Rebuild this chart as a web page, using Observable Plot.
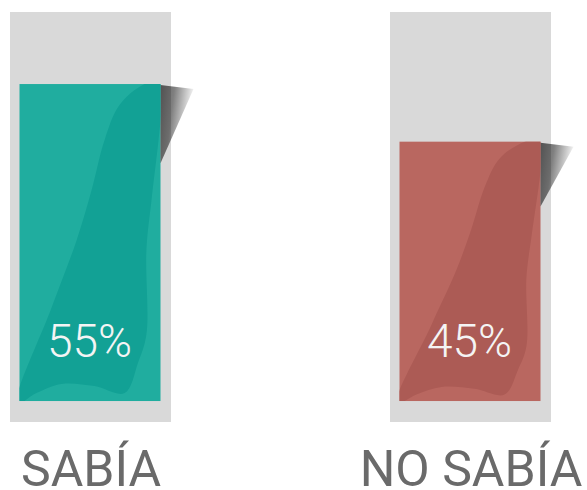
<!DOCTYPE html>
<html>
<head>
<meta charset="utf-8">
<script src="https://cdn.jsdelivr.net/npm/d3@7"></script>
<script src="https://cdn.jsdelivr.net/npm/@observablehq/plot@0.6"></script>
<style>
  html, body { margin: 0; padding: 0; background: #ffffff; }
  #chart svg { display: block; }
</style>
</head>
<body>
<div id="chart"></div>
<script>
// ---- data ----
const categories = ["SABÍA", "NO SABÍA"];
const values = [55, 45];
const valueLabels = ["55%", "45%"];
const baseColors = ["#20AD9F", "#B96760"];
const darkColors = ["#12A195", "#AC5B55"];

const data = categories.map((c, i) => ({
  cat: c, value: values[i], label: valueLabels[i], base: baseColors[i], dark: darkColors[i]
}));

// scale extent of the grey track
const yLo = -3.64, yHi = 67.5;
const insetL = 9.5, insetR = 10.5;

// curled-page shading shape (fractions of bar width / height)
const curl = [
  [0.887, 0.0], [1.02, -0.01], [1.0, 0.114], [0.986, 0.177], [0.936, 0.367], [0.90, 0.525],
  [0.90, 0.79], [0.84, 0.88], [0.745, 0.975], [0.532, 0.953], [0.298, 0.946], [0.12, 0.975], [-0.02, 1.01],
  [0.227, 0.706], [0.404, 0.494], [0.511, 0.335], [0.603, 0.177], [0.709, 0.066]
];

function decorations(index, scales) {
  const sx = scales.x, sy = scales.y;
  const bw = typeof sx.bandwidth === "function" ? sx.bandwidth() : sx.bandwidth;
  const g = d3.create("svg:g");
  const defs = g.append("defs");
  const grad = defs.append("linearGradient").attr("id", "shadowGrad")
    .attr("x1", "0").attr("y1", "0").attr("x2", "1").attr("y2", "0.3");
  grad.append("stop").attr("offset", "0").attr("stop-color", "#000").attr("stop-opacity", 0.62);
  grad.append("stop").attr("offset", "0.4").attr("stop-color", "#000").attr("stop-opacity", 0.5);
  grad.append("stop").attr("offset", "1").attr("stop-color", "#000").attr("stop-opacity", 0);
  const line = d3.line().curve(d3.curveCatmullRomClosed.alpha(0.5));
  data.forEach((d, i) => {
    const x0 = sx(d.cat) + insetL;
    const x1 = sx(d.cat) + bw - insetR;
    const yT = sy(d.value), yB = sy(0);
    const w = x1 - x0, h = yB - yT;
    defs.append("clipPath").attr("id", "barClip" + i)
      .append("rect").attr("x", x0).attr("y", yT).attr("width", w).attr("height", h);
    // shadow
    g.append("polygon")
      .attr("points", [[x1, yT + 1], [x1 + 33, yT + 5], [x1, yT + 0.25 * h]].map(p => p.join(",")).join(" "))
      .attr("fill", "url(#shadowGrad)");
    // darker curl
    g.append("path")
      .attr("d", line(curl.map(([u, v]) => [x0 + u * w, yT + v * h])))
      .attr("clip-path", "url(#barClip" + i + ")")
      .attr("fill", d.dark);
  });
  return g.node();
}

const chart = Plot.plot({
  width: 587,
  height: 490,
  marginTop: 12,
  marginBottom: 68,
  marginLeft: 9,
  marginRight: 36,
  style: { fontFamily: "Roboto, 'Noto Sans', sans-serif", background: "#ffffff" },
  x: { type: "band", domain: categories, paddingInner: 0.577, paddingOuter: 0, axis: null },
  y: { domain: [yLo, yHi], axis: null },
  color: { type: "identity" },
  marks: [
    Plot.barY(data, { x: "cat", y1: () => yLo, y2: () => yHi, fill: "#D9D9D9" }),
    Plot.barY(data, { x: "cat", y: "value", fill: "base", insetLeft: insetL, insetRight: insetR }),
    decorations,
    Plot.text(data, { x: "cat", y: () => 0, text: "label", fill: "#F4F4F4", fontSize: 46, fontWeight: 300, dy: -59, dx: -1.5 }),
    Plot.text(data, { x: "cat", text: "cat", frameAnchor: "bottom", dy: 63, fontSize: 50, fill: "#6A6A6A" })
  ]
});
document.getElementById("chart").appendChild(chart);
</script>
</body>
</html>
